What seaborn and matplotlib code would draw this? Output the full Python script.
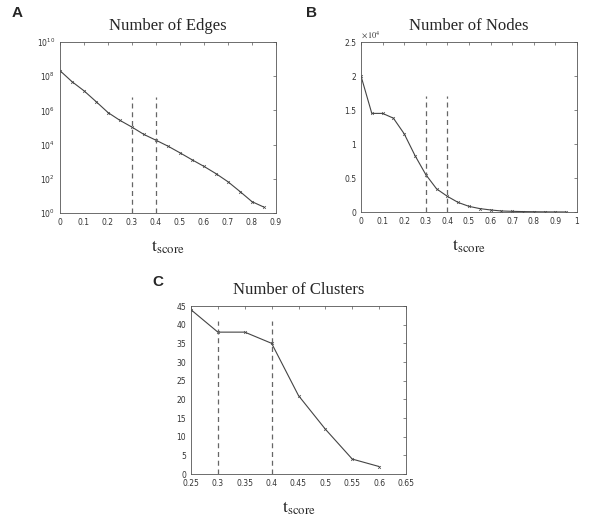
import matplotlib
matplotlib.use("Agg")
import matplotlib.pyplot as plt
import matplotlib.ticker as mticker
import seaborn as sns
import pandas as pd

# t_score grids and read-off values for the three panels
edges_t = [0.0, 0.05, 0.1, 0.15, 0.2, 0.25, 0.3, 0.35, 0.4, 0.45, 0.5,
           0.55, 0.6, 0.65, 0.7, 0.75, 0.8, 0.85]
edges_n = [2.1e8, 4.8e7, 1.4e7, 3.3e6, 7.5e5, 2.6e5, 1.05e5, 3.9e4, 1.8e4,
           8.1e3, 3.3e3, 1.3e3, 5.3e2, 2.0e2, 67, 18, 4.6, 2.2]

nodes_t = [0.0, 0.05, 0.1, 0.15, 0.2, 0.25, 0.3, 0.35, 0.4, 0.45, 0.5,
           0.55, 0.6, 0.65, 0.7, 0.75, 0.8, 0.85, 0.9, 0.95]
nodes_n = [20000, 14500, 14500, 13800, 11500, 8300, 5500, 3400, 2300, 1400,
           830, 500, 300, 150, 100, 60, 40, 20, 10, 5]

clusters_t = [0.25, 0.3, 0.35, 0.4, 0.45, 0.5, 0.55, 0.6]
clusters_n = [44, 38, 38, 35, 21, 12, 4, 2]

thresholds = [0.3, 0.4]

sns.set_style("white")
plt.rcParams["mathtext.fontset"] = "stix"

W, H = 600, 521
fig = plt.figure(figsize=(W / 100, H / 100), dpi=100)

line_kw = dict(color="#444444", linewidth=0.8, marker="x", markersize=2,
               markeredgewidth=0.5, markeredgecolor="#444444")
title_kw = dict(fontsize=12, family="Liberation Serif", pad=9)
tick_kw = dict(direction="in", top=True, right=True, labelsize=5.5,
               length=2.5, width=0.5, labelcolor="#333333", color="#555555")


def px_axes(left, top, right, bottom):
    return fig.add_axes([left / W, 1 - bottom / H, (right - left) / W, (bottom - top) / H])


def style(ax):
    for s in ax.spines.values():
        s.set_color("#555555")
        s.set_linewidth(0.6)
    ax.tick_params(**tick_kw)
    ax.set_xlabel(r"$\mathrm{t}_{\mathrm{score}}$", fontsize=13, labelpad=8)
    ax.set_ylabel("")


def vlines(ax, top_frac):
    for t in thresholds:
        ax.axvline(t, ymin=0, ymax=top_frac, color="#666666", linestyle=(0, (4, 3)),
                   linewidth=0.9)


# A: edges (log scale)
axA = px_axes(60, 42, 276, 213)
sns.lineplot(x=edges_t, y=edges_n, ax=axA, **line_kw)
axA.set_yscale("log")
axA.set_ylim(1, 1e10)
axA.set_xlim(0, 0.9)
axA.set_xticks([0, 0.1, 0.2, 0.3, 0.4, 0.5, 0.6, 0.7, 0.8, 0.9])
axA.xaxis.set_major_formatter(mticker.FuncFormatter(lambda v, p: f"{v:g}"))
axA.yaxis.set_major_locator(mticker.FixedLocator([1, 1e2, 1e4, 1e6, 1e8, 1e10]))
axA.yaxis.set_minor_locator(mticker.NullLocator())
vlines(axA, 0.68)
axA.set_title("Number of Edges", **title_kw)
style(axA)

# B: nodes
axB = px_axes(361, 42, 577, 212)
sns.lineplot(x=nodes_t, y=nodes_n, ax=axB, **line_kw)
axB.set_xlim(0, 1)
axB.set_ylim(0, 25000)
axB.set_xticks([0, 0.1, 0.2, 0.3, 0.4, 0.5, 0.6, 0.7, 0.8, 0.9, 1.0])
axB.set_yticks([0, 5000, 10000, 15000, 20000, 25000])
axB.xaxis.set_major_formatter(mticker.FuncFormatter(lambda v, p: f"{v:g}"))
axB.yaxis.set_major_formatter(mticker.FuncFormatter(lambda v, p: f"{v / 1e4:g}"))
axB.text(0.0, 1.01, r"$\times\,10^{4}$", transform=axB.transAxes, fontsize=6,
         color="#333333", ha="left", va="bottom")
vlines(axB, 0.683)
axB.set_title("Number of Nodes", **title_kw)
style(axB)

# C: clusters
axC = px_axes(191, 306, 406, 474)
sns.lineplot(x=clusters_t, y=clusters_n, ax=axC, **line_kw)
axC.set_xlim(0.25, 0.65)
axC.set_ylim(0, 45)
axC.set_xticks([0.25, 0.3, 0.35, 0.4, 0.45, 0.5, 0.55, 0.6, 0.65])
axC.set_yticks(range(0, 50, 5))
axC.xaxis.set_major_formatter(mticker.FuncFormatter(lambda v, p: f"{v:g}"))
vlines(axC, 0.913)
axC.set_title("Number of Clusters", **title_kw)
style(axC)

for letter, x, y in [("A", 12, 13), ("B", 306, 13), ("C", 152, 282)]:
    fig.text(x / W, 1 - y / H, letter, fontsize=11, fontweight="bold",
             family="Liberation Sans", ha="left", va="center")

fig.savefig("out.png", dpi=100)
